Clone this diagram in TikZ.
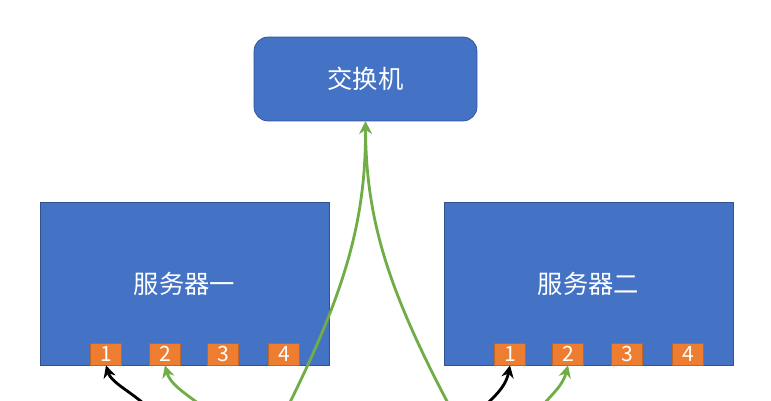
\documentclass[tikz,border=0pt]{standalone}
\usepackage{fontspec}
\setmainfont{Noto Sans CJK SC}
\usetikzlibrary{arrows.meta}
\definecolor{boxblue}{RGB}{68,114,196}
\definecolor{boxedge}{RGB}{47,82,143}
\definecolor{portorange}{RGB}{237,125,49}
\definecolor{linkgreen}{RGB}{112,173,71}
\tikzset{
	device/.style={draw=boxedge, fill=boxblue, text=white, font=\Large, inner sep=0pt},
	port/.style={draw=portorange!80!black, fill=portorange, text=white, font=\large, minimum width=0.62cm, minimum height=0.44cm, inner sep=0pt},
	link/.style={linkgreen, line width=1.6pt, -{Stealth[length=7pt,width=7pt]}},
	blink/.style={black, line width=1.6pt, -{Stealth[length=7pt,width=7pt]}}
}
\begin{document}
\begin{tikzpicture}[x=0.02cm,y=-0.02cm]
\useasboundingbox (0,0) rectangle (771,400);
\clip (0,0) rectangle (771,400);

\node[device, rounded corners=8pt, minimum width=4.46cm, minimum height=1.68cm] (switch) at (365.5,79) {交换机};
\node[device, minimum width=5.78cm, minimum height=3.26cm] (srvA) at (184.5,283.5) {服务器一};
\node[device, minimum width=5.78cm, minimum height=3.26cm] (srvB) at (588.5,283.5) {服务器二};

% ports
\foreach \i/\x in {1/106,2/165,3/223,4/284}{
	\node[port] (a\i) at (\x,354) {\i};
}
\foreach \i/\x in {1/510,2/568,3/627,4/688}{
	\node[port] (b\i) at (\x,354) {\i};
}

% cables
\coordinate (la) at (250,480);
\coordinate (lb) at (490,480);
\draw[link] (la) .. controls (335,320) and (366,240) .. (switch.south);
\draw[link] (lb) .. controls (400,320) and (366,240) .. (switch.south);
\draw[blink] (160,420) .. controls (140,395) and (112,385) .. (a1.south);
\draw[link] (230,430) .. controls (200,400) and (172,390) .. (a2.south);
\draw[blink] (470,420) .. controls (490,400) and (505,390) .. (b1.south);
\draw[link] (530,420) .. controls (550,395) and (562,388) .. (b2.south);

\end{tikzpicture}
\end{document}
